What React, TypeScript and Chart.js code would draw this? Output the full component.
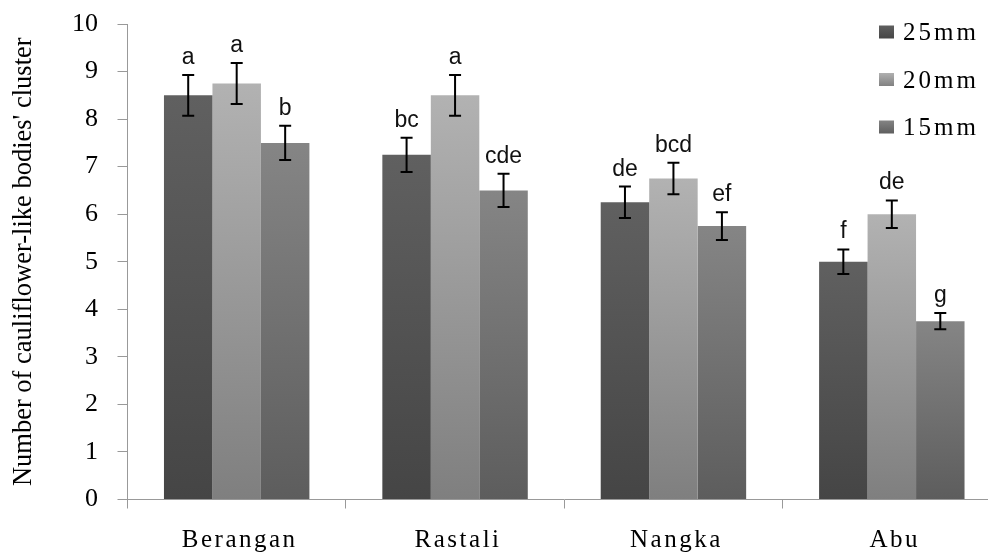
import React, { useEffect, useRef } from "react";
import { Chart, registerables } from "chart.js";

Chart.register(...registerables);

const categories = ["Berangan", "Rastali", "Nangka", "Abu"];
const seriesNames = ["25mm", "20mm", "15mm"];
const values25 = [8.5, 7.25, 6.25, 5.0];
const values20 = [8.75, 8.5, 6.75, 6.0];
const values15 = [7.5, 6.5, 5.75, 3.75];
const errors25 = [0.43, 0.36, 0.33, 0.26];
const errors20 = [0.43, 0.43, 0.33, 0.29];
const errors15 = [0.36, 0.35, 0.29, 0.17];
const letters25 = ["a", "bc", "de", "f"];
const letters20 = ["a", "a", "bcd", "de"];
const letters15 = ["b", "cde", "ef", "g"];
const yTitle = "Number of cauliflower-like bodies' cluster";

const seriesValues = [values25, values20, values15];
const seriesErrors = [errors25, errors20, errors15];
const seriesLetters = [letters25, letters20, letters15];

const topColors = ["#606060", "#b2b2b2", "#858585"];
const bottomColors = ["#454545", "#7f7f7f", "#5d5d5d"];
const midColors = ["#555555", "#a0a0a0", "#737373"];

const AXIS = "#999999";
const FONT = '"Liberation Serif", "Times New Roman", "Liberation Sans", Arial, sans-serif';
const SANS = '"Liberation Sans", Arial, sans-serif';

const overlayPlugin = {
  id: "overlay",
  afterDatasetsDraw(chart: any) {
    const ctx = chart.ctx as CanvasRenderingContext2D;
    const y = chart.scales.y;
    chart.data.datasets.forEach((ds: any, di: number) => {
      const meta = chart.getDatasetMeta(di);
      meta.data.forEach((bar: any, i: number) => {
        const v = ds.data[i];
        const e = seriesErrors[di][i];
        const yt = y.getPixelForValue(v + e);
        const yb = y.getPixelForValue(v - e);
        const x = bar.x;
        ctx.save();
        ctx.strokeStyle = "#000";
        ctx.lineWidth = 2;
        ctx.beginPath();
        ctx.moveTo(x, yt);
        ctx.lineTo(x, yb);
        ctx.moveTo(x - 6, yt);
        ctx.lineTo(x + 6, yt);
        ctx.moveTo(x - 6, yb);
        ctx.lineTo(x + 6, yb);
        ctx.stroke();
        ctx.font = `23px ${SANS}`;
        ctx.textAlign = "center";
        ctx.textBaseline = "alphabetic";
        ctx.fillStyle = "#111";
        ctx.fillText(seriesLetters[di][i], x, yt - 11);
        ctx.restore();
      });
    });
  },
  afterDraw(chart: any) {
    const ctx = chart.ctx as CanvasRenderingContext2D;
    const xs = chart.scales.x;
    const area = chart.chartArea;
    ctx.save();
    ctx.font = `25px ${FONT}`;
    (ctx as any).letterSpacing = "2.5px";
    ctx.fillStyle = "#000";
    ctx.textAlign = "center";
    ctx.textBaseline = "alphabetic";
    categories.forEach((c, i) => {
      ctx.fillText(c, xs.getPixelForValue(i) + 3, area.bottom + 47.5);
    });
    (ctx as any).letterSpacing = "3px";
    ctx.textAlign = "left";
    seriesNames.forEach((name, i) => {
      const cy = area.top + 8 + i * 47.5;
      const g = ctx.createLinearGradient(0, cy - 7, 0, cy + 7);
      g.addColorStop(0, topColors[i]);
      g.addColorStop(1, bottomColors[i]);
      ctx.fillStyle = g;
      ctx.fillRect(879, cy - 6.5, 15, 13);
      ctx.fillStyle = "#000";
      ctx.fillText(name, 903, cy + 8);
    });
    ctx.restore();
  },
};

export default function App() {
  const canvasRef = useRef<HTMLCanvasElement | null>(null);

  useEffect(() => {
    if (!canvasRef.current) return;
    const chart = new Chart(canvasRef.current, {
      type: "bar",
      data: {
        labels: categories,
        datasets: seriesNames.map((name, di) => ({
          label: name,
          data: seriesValues[di],
          borderWidth: 0,
          categoryPercentage: 0.666,
          barPercentage: 1,
          backgroundColor: (c: any) => {
            const ch = c.chart;
            const ys = ch.scales && ch.scales.y;
            const v = c.raw;
            if (!ys || typeof v !== "number" || !ch.chartArea) return midColors[di];
            const top = ys.getPixelForValue(v);
            const bottom = ys.getPixelForValue(0);
            if (!isFinite(top) || !isFinite(bottom) || top === bottom) return midColors[di];
            const g = ch.ctx.createLinearGradient(0, top, 0, bottom);
            g.addColorStop(0, topColors[di]);
            g.addColorStop(1, bottomColors[di]);
            return g;
          },
        })),
      },
      options: {
        responsive: false,
        animation: false,
        layout: { padding: { top: 24, right: 11, left: 0, bottom: 0 } },
        plugins: {
          legend: { display: false },
          tooltip: { enabled: false },
        },
        scales: {
          x: {
            offset: true,
            ticks: { display: false },
            grid: {
              display: true,
              offset: true,
              drawOnChartArea: false,
              drawTicks: true,
              tickLength: 9,
              color: AXIS,
              lineWidth: 1,
            },
            border: { display: true, color: AXIS, width: 1 },
            afterFit: (s: any) => {
              s.height = 52.5;
            },
          },
          y: {
            min: 0,
            max: 10,
            ticks: {
              stepSize: 1,
              color: "#000",
              padding: 19.5,
              font: { family: FONT, size: 26 },
            },
            grid: {
              display: true,
              drawOnChartArea: false,
              drawTicks: true,
              tickLength: 10,
              color: AXIS,
              lineWidth: 1,
            },
            border: { display: true, color: AXIS, width: 1 },
            title: {
              display: true,
              text: yTitle,
              color: "#000",
              font: { family: FONT, size: 26.5 },
              padding: { top: 8, bottom: 0 },
            },
            afterFit: (s: any) => {
              s.width = 127.5;
              s.paddingTop = 0;
              s.paddingBottom = 0;
            },
          },
        },
      },
      plugins: [overlayPlugin],
    });
    return () => chart.destroy();
  }, []);

  return (
    <div
      style={{
        position: "absolute",
        left: 0,
        top: 0,
        width: 988,
        height: 552,
        overflow: "hidden",
        background: "#fff",
      }}
    >
      <canvas ref={canvasRef} width={1012} height={552} style={{ display: "block" }} />
    </div>
  );
}
